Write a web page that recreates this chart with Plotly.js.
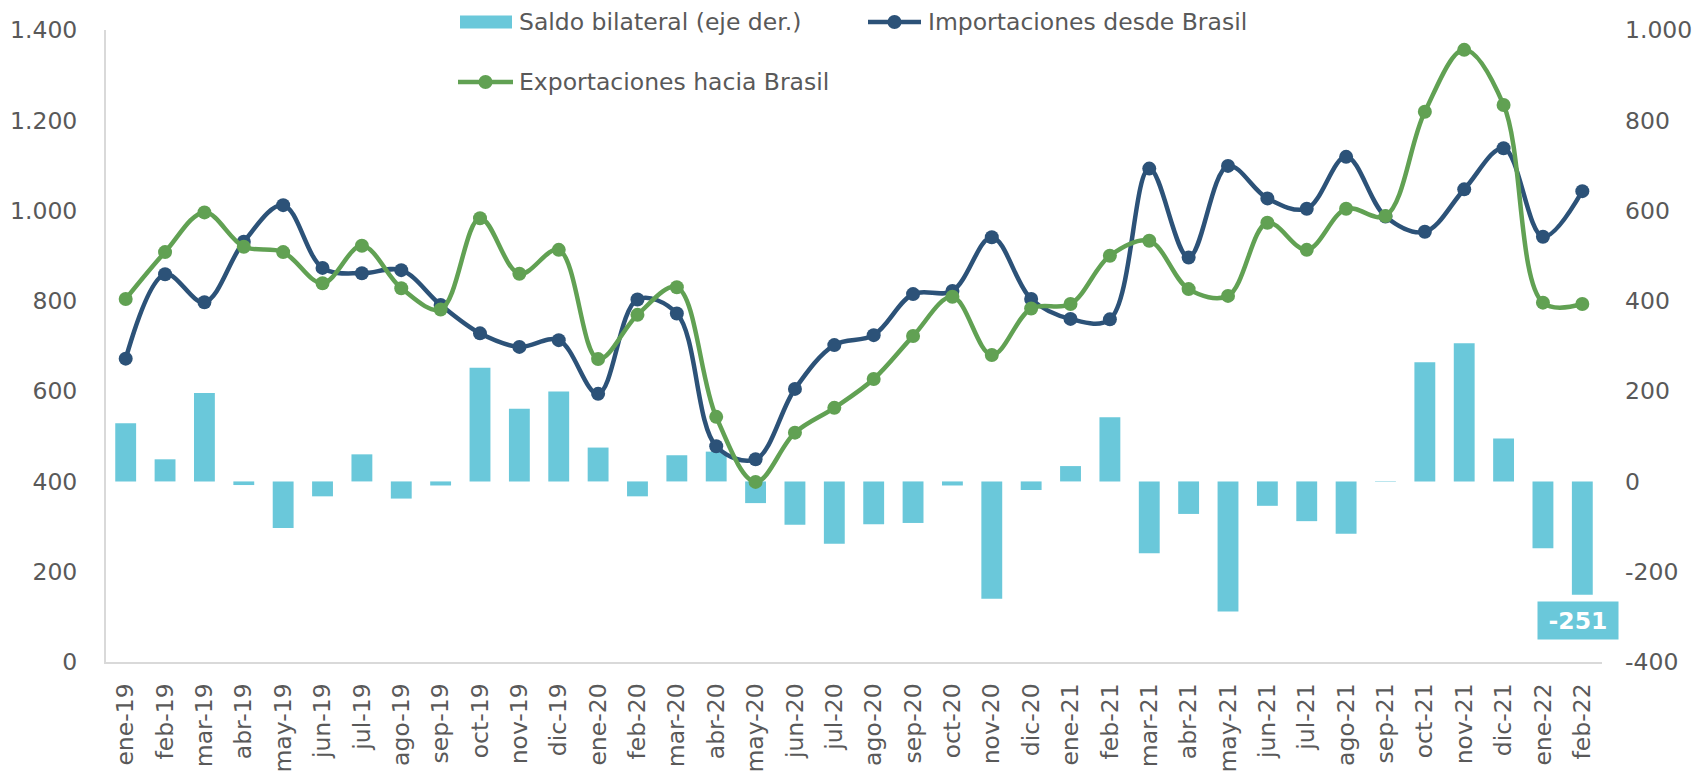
<!DOCTYPE html>
<html>
<head>
<meta charset="utf-8">
<script src="https://cdn.plot.ly/plotly-3.0.1.min.js"></script>
<style>html,body{margin:0;padding:0;background:#fff;}#chart{width:1693px;height:772px;}</style>
</head>
<body>
<div id="chart"></div>
<script>
const months = ['ene-19','feb-19','mar-19','abr-19','may-19','jun-19','jul-19','ago-19','sep-19','oct-19','nov-19','dic-19',
  'ene-20','feb-20','mar-20','abr-20','may-20','jun-20','jul-20','ago-20','sep-20','oct-20','nov-20','dic-20',
  'ene-21','feb-21','mar-21','abr-21','may-21','jun-21','jul-21','ago-21','sep-21','oct-21','nov-21','dic-21',
  'ene-22','feb-22'];
const importaciones = [672,859,797,931,1012,873,861,868,791,728,698,713,
  594,803,772,478,449,605,702,724,815,822,941,804,
  760,759,1093,896,1099,1027,1004,1119,987,953,1047,1138,
  942,1043];
const exportaciones = [804,908,996,920,908,839,922,828,781,983,860,913,
  671,769,830,543,399,508,563,627,722,809,680,783,
  793,900,933,826,811,973,913,1004,988,1219,1356,1234,
  796,793];
const saldo = [129,49,196,-8,-103,-33,60,-38,-9,252,161,199,
  75,-33,58,66,-48,-96,-138,-95,-92,-9,-260,-19,
  34,142,-159,-72,-288,-54,-88,-116,-1,264,306,95,
  -148,-251];
const leftTicks = [0,200,400,600,800,1000,1200,1400];
const rightTicks = [-400,-200,0,200,400,600,800,1000];

const C_BAR = '#6AC8DA', C_IMP = '#2C5278', C_EXP = '#61A153', C_TXT = '#595959';
const FONT = 'Verdana, "DejaVu Sans", sans-serif';
const FS = 23.5;

const fmt = v => (v < 0 ? '-' : '') + String(Math.abs(v)).replace(/\B(?=(\d{3})+(?!\d))/g, '.');

const M = {l:106, r:91, t:30, b:110};
const W = 1693 - M.l - M.r, H = 772 - M.t - M.b;
const px = v => (v - M.l) / W;
const py = v => (772 - M.b - v) / H;

const traces = [
  {type:'bar', x: months, y: saldo, yaxis:'y', marker:{color:C_BAR}, name:'Saldo bilateral (eje der.)', hoverinfo:'x+y'},
  {type:'scatter', mode:'lines+markers', x: months, y: importaciones, yaxis:'y2', name:'Importaciones desde Brasil',
    line:{color:C_IMP, width:4.5, shape:'spline', smoothing:1}, marker:{color:C_IMP, size:14}},
  {type:'scatter', mode:'lines+markers', x: months, y: exportaciones, yaxis:'y2', name:'Exportaciones hacia Brasil',
    line:{color:C_EXP, width:4.5, shape:'spline', smoothing:1}, marker:{color:C_EXP, size:14}}
];

const legendItems = [
  {kind:'bar', color:C_BAR, x0:460, x1:512, y:22, tx:517, text:'Saldo bilateral (eje der.)'},
  {kind:'line', color:C_IMP, x0:868, x1:921, y:22, tx:926, text:'Importaciones desde Brasil'},
  {kind:'line', color:C_EXP, x0:458, x1:513, y:82, tx:517, text:'Exportaciones hacia Brasil'}
];
const shapes = [], annotations = [];
legendItems.forEach(it => {
  if (it.kind === 'bar') {
    shapes.push({type:'rect', xref:'paper', yref:'paper', x0:px(it.x0), x1:px(it.x1), y0:py(it.y+6.5), y1:py(it.y-6.5),
      fillcolor:it.color, line:{width:0}});
  } else {
    shapes.push({type:'line', xref:'paper', yref:'paper', x0:px(it.x0), x1:px(it.x1), y0:py(it.y), y1:py(it.y),
      line:{color:it.color, width:4.5}});
    const cx = (it.x0 + it.x1) / 2;
    shapes.push({type:'circle', xref:'paper', yref:'paper', x0:px(cx-7), x1:px(cx+7), y0:py(it.y+7), y1:py(it.y-7),
      fillcolor:it.color, line:{width:0}});
  }
  annotations.push({xref:'paper', yref:'paper', x:px(it.tx), y:py(it.y), xanchor:'left', yanchor:'middle',
    text:it.text, showarrow:false, font:{family:FONT, size:FS, color:C_TXT}});
});
const last = months.length - 1;
annotations.push({xref:'x', yref:'y', x:months[last], y:-309, xshift:-4, text:fmt(saldo[last]), showarrow:false,
  bgcolor:C_BAR, width:80, height:37, borderpad:0, font:{family:FONT, size:FS, color:'#FFFFFF', weight:'bold'}});

const layout = {
  width:1693, height:772, margin:M, paper_bgcolor:'#fff', plot_bgcolor:'#fff',
  showlegend:false, bargap:0.47,
  font:{family:FONT, size:FS, color:C_TXT},
  xaxis:{type:'category', range:[-0.5, months.length - 0.5], tickangle:-90, showgrid:false, zeroline:false, showline:true,
    linecolor:'#D9D9D9', linewidth:2, ticks:'', ticklabelstandoff:10, tickfont:{family:FONT, size:FS, color:C_TXT}},
  yaxis:{side:'right', range:[-400,1000], tickvals:rightTicks, ticktext:rightTicks.map(fmt), showgrid:false, zeroline:false,
    showline:false, ticks:'', ticklabelstandoff:22, tickfont:{family:FONT, size:FS, color:C_TXT}},
  yaxis2:{side:'left', overlaying:'y', range:[0,1400], tickvals:leftTicks, ticktext:leftTicks.map(fmt), showgrid:false,
    zeroline:false, showline:true, linecolor:'#D9D9D9', linewidth:2, ticks:'', ticklabelstandoff:22,
    tickfont:{family:FONT, size:FS, color:C_TXT}},
  shapes:shapes, annotations:annotations
};
Plotly.newPlot('chart', traces, layout, {displayModeBar:false, staticPlot:true});
</script>
</body>
</html>
